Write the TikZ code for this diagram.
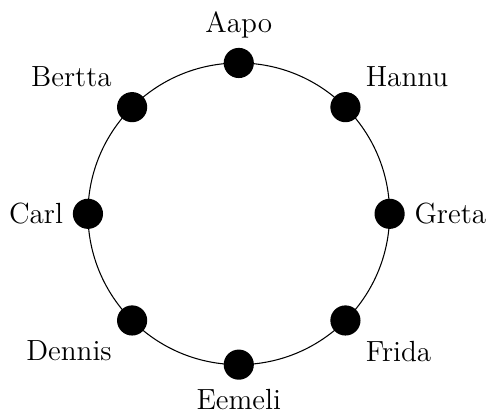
\documentclass[tikz,border=0pt]{standalone}
\usetikzlibrary{positioning}

\begin{document}
\begin{tikzpicture}[
  person/.style={circle,fill=black,inner sep=0pt,minimum size=0.4cm},
  every label/.style={font=\fontsize{11}{13.6}\selectfont}
]
  \useasboundingbox (-3.166,-2.668) rectangle (3.331,2.835);
  \draw (0,0) circle (2cm);
  \foreach \name/\ang in {Aapo/90,Bertta/135,Carl/180,Dennis/225,
                          Eemeli/270,Frida/315,Greta/0,Hannu/45}
    \node[person,label=\ang:\name] (\name) at (\ang:2cm) {};
\end{tikzpicture}
\end{document}
